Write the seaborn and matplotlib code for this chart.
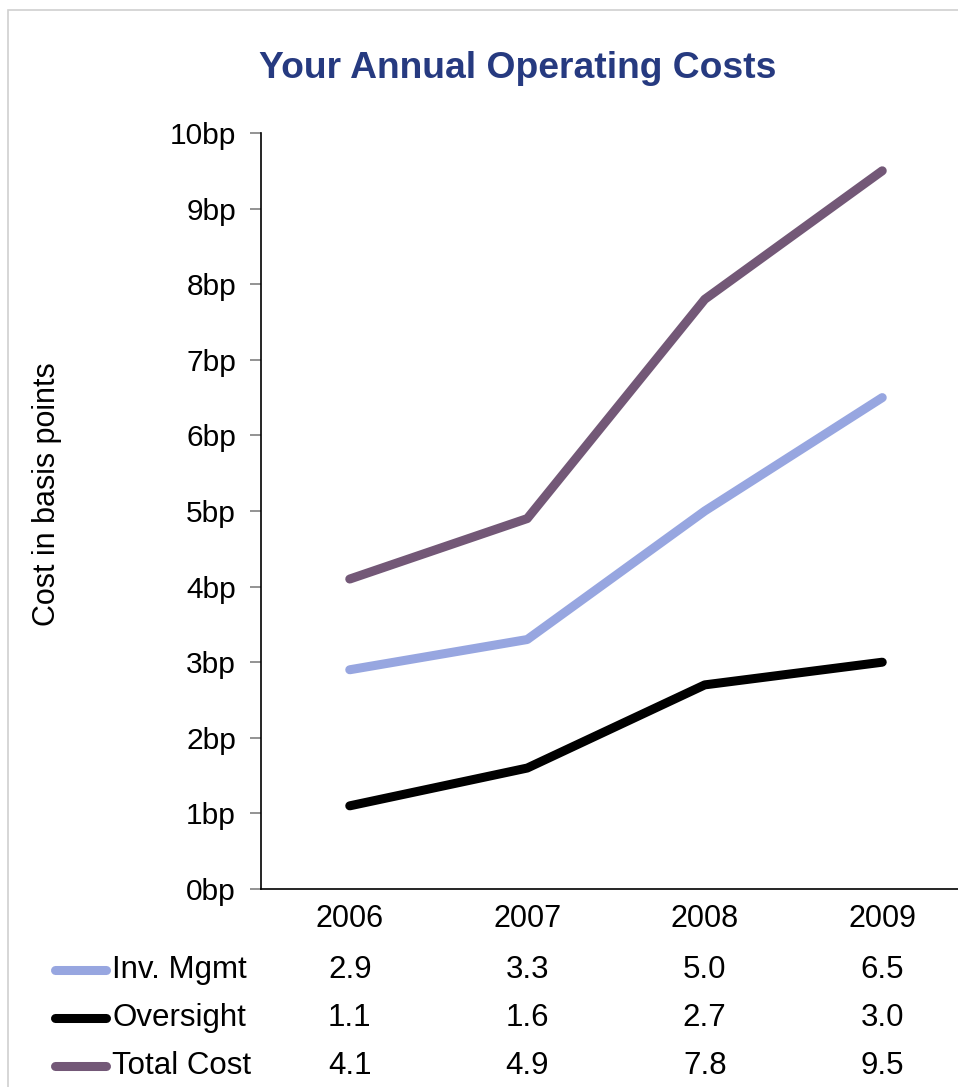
import matplotlib
matplotlib.use("Agg")
import matplotlib.pyplot as plt
import matplotlib.transforms as mtransforms
import seaborn as sns
import pandas as pd
from matplotlib.lines import Line2D
from matplotlib.patches import Rectangle

years = ["2006", "2007", "2008", "2009"]
inv_mgmt = [2.9, 3.3, 5.0, 6.5]
oversight = [1.1, 1.6, 2.7, 3.0]
total_cost = [4.1, 4.9, 7.8, 9.5]
series_names = ["Inv. Mgmt", "Oversight", "Total Cost"]
yticks = list(range(0, 11))
ytick_labels = [f"{v}bp" for v in yticks]

colors = {"Inv. Mgmt": "#97A6E0", "Oversight": "#000000", "Total Cost": "#735877"}

rows = []
for name, vals in zip(series_names, [inv_mgmt, oversight, total_cost]):
    for i, (yr, v) in enumerate(zip(years, vals)):
        rows.append({"series": name, "year": yr, "pos": i + 0.5, "value": v})
df = pd.DataFrame(rows)

sns.set_theme(style="white")
plt.rcParams["font.family"] = ["Liberation Sans", "DejaVu Sans"]
plt.rcParams["text.color"] = "black"
plt.rcParams["xtick.color"] = "black"
plt.rcParams["ytick.color"] = "black"
plt.rcParams["axes.labelcolor"] = "black"

W, H = 958, 1087
fig = plt.figure(figsize=(W / 100, H / 100), dpi=100)

# outer border
fig.patches.append(Rectangle((8 / W, -0.01), 1.1, (H - 10) / H + 0.01, transform=fig.transFigure,
                             fill=False, edgecolor="#D0D0D0", linewidth=1.2))

ax = fig.add_axes([261 / W, (H - 889) / H, 710 / W, (889 - 133) / H])
sns.lineplot(data=df, x="pos", y="value", hue="series", palette=colors, hue_order=series_names,
             linewidth=6.5, ax=ax, legend=False, sort=False)
for ln in ax.lines:
    ln.set_solid_capstyle("round")
    ln.set_solid_joinstyle("round")

ax.set_xlim(0, 4)
ax.set_ylim(0, 10)
ax.set_yticks(yticks)
ax.set_yticklabels(ytick_labels, fontsize=21.5)
ax.set_xticks([i + 0.5 for i in range(len(years))])
ax.set_xticklabels(years, fontsize=22)
ax.tick_params(axis="y", length=8, width=1.2, color="#808080", left=True, pad=10,
               labelcolor="black")
ax.tick_params(axis="x", length=0, pad=11, labelcolor="black")
for s in ["top", "right"]:
    ax.spines[s].set_visible(False)
for s in ["left", "bottom"]:
    ax.spines[s].set_color("black")
    ax.spines[s].set_linewidth(1.2)
ax.set_xlabel("")
ax.set_ylabel("Cost in basis points", fontsize=22, color="black")
ax.yaxis.set_label_coords(-(261 - 62) / 710, (889 - 494) / 756)

fig.text(518 / W, 1 - 69 / H, "Your Annual Operating Costs", ha="center", va="center",
         fontsize=26.8, fontweight="bold", color="#263A80")

# data table
blend = mtransforms.blended_transform_factory(ax.transData, fig.transFigure)
row_y = [970, 1018, 1066]
for name, vals, yy in zip(series_names, [inv_mgmt, oversight, total_cost], row_y):
    fy = 1 - yy / H
    fig.add_artist(Line2D([55 / W, 106 / W], [fy, fy], transform=fig.transFigure,
                          color=colors[name], linewidth=6.5, solid_capstyle="round"))
    fig.text(112 / W, fy, name, ha="left", va="center", fontsize=22.5, color="black")
    for i, v in enumerate(vals):
        ax.text(i + 0.5, fy, f"{v:.1f}", ha="center", va="center", fontsize=22.5,
                color="black", transform=blend, clip_on=False)

fig.savefig("out.png", dpi=100)
